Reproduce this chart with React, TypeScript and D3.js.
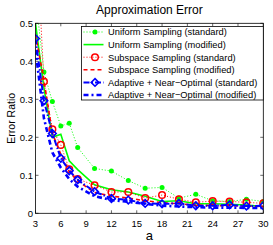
import * as d3 from 'd3';

const xs = [3, 4, 5, 6, 7, 8, 10, 12, 14, 16, 18, 20, 22, 24, 26, 28, 30];
const uniformStd = [0.57, 0.372, 0.294, 0.23, 0.237, 0.173, 0.118, 0.111, 0.086, 0.066, 0.068, 0.04, 0.05, 0.033, 0.031, 0.037, 0.031];
const uniformMod = [0.5, 0.33, 0.2, 0.208, 0.138, 0.115, 0.075, 0.062, 0.056, 0.045, 0.031, 0.033, 0.025, 0.025, 0.024, 0.022, 0.018];
const subspaceStd = [0.78, 0.347, 0.221, 0.18, 0.116, 0.09, 0.074, 0.056, 0.056, 0.04, 0.048, 0.037, 0.029, 0.032, 0.031, 0.029, 0.026];
const subspaceMod = [0.47, 0.35, 0.21, 0.155, 0.11, 0.085, 0.055, 0.045, 0.04, 0.033, 0.028, 0.025, 0.022, 0.02, 0.02, 0.019, 0.018];
const adaptiveStd = [0.46, 0.296, 0.21, 0.145, 0.112, 0.088, 0.057, 0.039, 0.035, 0.026, 0.025, 0.026, 0.02, 0.02, 0.022, 0.019, 0.02];
const adaptiveMod = [0.43, 0.25, 0.16, 0.12, 0.09, 0.07, 0.045, 0.035, 0.03, 0.025, 0.02, 0.018, 0.016, 0.015, 0.015, 0.014, 0.014];

const xTicks = [3, 6, 9, 12, 15, 18, 21, 24, 27, 30];
const yTicks = [0, 0.1, 0.2, 0.3, 0.4, 0.5];

type Series = {
  name: string;
  values: number[];
  color: string;
  width: number;
  dash: string;
  marker: 'dot' | 'circle' | 'diamond' | null;
};

const series: Series[] = [
  { name: 'Uniform Sampling (standard)', values: uniformStd, color: '#00ff00', width: 1, dash: '1,2', marker: 'dot' },
  { name: 'Uniform Sampling (modified)', values: uniformMod, color: '#00ff00', width: 1.6, dash: '', marker: null },
  { name: 'Subspace Sampling (standard)', values: subspaceStd, color: '#ff0000', width: 1, dash: '1,2', marker: 'circle' },
  { name: 'Subspace Sampling (modified)', values: subspaceMod, color: '#ff0000', width: 1.6, dash: '4,3', marker: null },
  { name: 'Adaptive + Near\u2212Optimal (standard)', values: adaptiveStd, color: '#0000ff', width: 2, dash: '6,2,1.5,2', marker: 'diamond' },
  { name: 'Adaptive + Near\u2212Optimal (modified)', values: adaptiveMod, color: '#0000ff', width: 2.6, dash: '5,3,2,3', marker: null },
];

const width = 273;
const height = 245;
const left = 35.5;
const right = 263.3;
const top = 23.3;
const bottom = 213.3;
const font = '"Liberation Sans", Arial, sans-serif';

const Marker = ({ kind, x, y, color }: { kind: Series['marker']; x: number; y: number; color: string }) => {
  if (kind === 'dot') return <circle cx={x} cy={y} r={2.5} fill={color} />;
  if (kind === 'circle') return <circle cx={x} cy={y} r={3.3} fill="none" stroke={color} strokeWidth={1.5} />;
  if (kind === 'diamond') {
    const s = 3.8;
    return (
      <path
        d={`M${x},${y - s}L${x + s},${y}L${x},${y + s}L${x - s},${y}Z`}
        fill="none"
        stroke={color}
        strokeWidth={1.6}
      />
    );
  }
  return null;
};

export default function App() {
  const x = d3.scaleLinear().domain([3, 30]).range([left, right]);
  const y = d3.scaleLinear().domain([0, 0.5]).range([bottom, top]);
  const line = d3
    .line<number>()
    .x((_, i) => x(xs[i]))
    .y((d) => y(d));

  const legendX = 81.5;
  const legendY = 26.5;
  const rowH = 12.6;

  return (
    <svg width={width} height={height} style={{ position: 'absolute', left: 0, top: 0 }} fontFamily={font}>
      <rect width={width} height={height} fill="#fff" />
      <defs>
        <clipPath id="plot">
          <rect x={left} y={top} width={right - left} height={bottom - top} />
        </clipPath>
      </defs>

      {/* ticks, inward on all sides */}
      {xTicks.map((t) => (
        <g key={`xt${t}`}>
          <line x1={x(t)} x2={x(t)} y1={bottom} y2={bottom - 3} stroke="#000" strokeWidth={0.6} />
          <line x1={x(t)} x2={x(t)} y1={top} y2={top + 3} stroke="#000" strokeWidth={0.6} />
          <text x={x(t)} y={bottom + 14} fontSize={9.5} textAnchor="middle">
            {t}
          </text>
        </g>
      ))}
      {yTicks.map((t) => (
        <g key={`yt${t}`}>
          <line x1={left} x2={left + 3} y1={y(t)} y2={y(t)} stroke="#000" strokeWidth={0.6} />
          <line x1={right} x2={right - 3} y1={y(t)} y2={y(t)} stroke="#000" strokeWidth={0.6} />
          <text x={left - 2.5} y={y(t) + 3.5} fontSize={9.5} textAnchor="end">
            {t === 0 ? '0' : t.toFixed(1)}
          </text>
        </g>
      ))}

      <g clipPath="url(#plot)">
        {series.map((s) => (
          <g key={s.name}>
            <path
              d={line(s.values) ?? ''}
              fill="none"
              stroke={s.color}
              strokeWidth={s.width}
              strokeDasharray={s.dash || undefined}
            />
            {s.values.map((v, i) => (
              <Marker key={i} kind={s.marker} x={x(xs[i])} y={y(v)} color={s.color} />
            ))}
          </g>
        ))}
      </g>

      <rect x={left} y={top} width={right - left} height={bottom - top} fill="none" stroke="#000" strokeWidth={0.8} />

      {/* legend */}
      <rect
        x={legendX}
        y={legendY}
        width={right - legendX}
        height={100 - legendY}
        fill="#fff"
        stroke="#000"
        strokeWidth={0.8}
      />
      {series.map((s, i) => {
        const ry = legendY + 5.5 + i * rowH;
        return (
          <g key={`lg${s.name}`}>
            <line
              x1={legendX + 2}
              x2={legendX + 22}
              y1={ry}
              y2={ry}
              stroke={s.color}
              strokeWidth={s.width}
              strokeDasharray={s.dash || undefined}
            />
            <Marker kind={s.marker} x={legendX + 13.5} y={ry} color={s.color} />
            <text x={legendX + 26.5} y={ry + 3.4} fontSize={9.3}>
              {s.name}
            </text>
          </g>
        );
      })}

      <text x={(left + right) / 2} y={14} fontSize={12} textAnchor="middle">
        Approximation Error
      </text>
      <text x={(left + right) / 2} y={240} fontSize={13} textAnchor="middle">
        a
      </text>
      <text
        transform={`translate(15,${(top + bottom) / 2}) rotate(-90)`}
        fontSize={10.5}
        textAnchor="middle"
      >
        Error Ratio
      </text>
    </svg>
  );
}
